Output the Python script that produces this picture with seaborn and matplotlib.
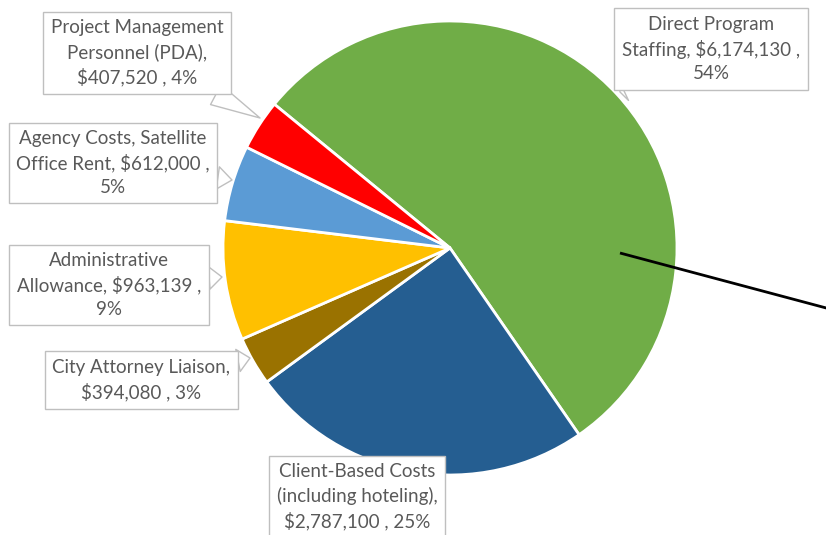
import matplotlib
matplotlib.use("Agg")
import matplotlib.pyplot as plt
import seaborn as sns

# Budget pieces, in the order they run clockwise round the pie
categories = [
    "Direct Program\nStaffing",
    "Client-Based Costs\n(including hoteling)",
    "City Attorney Liaison",
    "Administrative\nAllowance",
    "Agency Costs, Satellite\nOffice Rent",
    "Project Management\nPersonnel (PDA)",
]
amounts = [6174130, 2787100, 394080, 963139, 612000, 407520]
percents = ["54%", "25%", "3%", "9%", "5%", "4%"]
label_texts = [
    "Direct Program\nStaffing, $6,174,130 ,\n54%",
    "Client-Based Costs\n(including hoteling),\n$2,787,100 , 25%",
    "City Attorney Liaison,\n$394,080 , 3%",
    "Administrative\nAllowance, $963,139 ,\n9%",
    "Agency Costs, Satellite\nOffice Rent, $612,000 ,\n5%",
    "Project Management\nPersonnel (PDA),\n$407,520 , 4%",
]
colors = ["#70AD47", "#255E91", "#9A7200", "#FFC000", "#5B9BD5", "#FF0000"]

sns.set_style("white")
plt.rcParams["font.family"] = ["Lato", "DejaVu Sans"]

W, H = 826, 535
fig = plt.figure(figsize=(W / 100, H / 100), dpi=100)
ax = fig.add_axes([0, 0, 1, 1])

# pie center / radius in pixel space (y flipped)
cx, cy, r = 450, H - 248, 227
ax.pie(amounts, colors=colors, startangle=140.7, counterclock=False,
       center=(cx, cy), radius=r, frame=True,
       wedgeprops=dict(edgecolor="white", linewidth=2))
ax.set_xlim(0, W)
ax.set_ylim(0, H)
ax.set_aspect("equal")
ax.axis("off")

# (text centre, tail tip) per label in pixel coords
label_pos = [
    ((711, 49), (620, 92)),
    ((357, 497), (357, 470)),
    ((141, 380), (250, 358)),
    ((109, 285), (222, 277)),
    ((113, 163), (232, 180)),
    ((137, 53), (260, 118)),
]
for text, ((tx, ty), (px, py)) in zip(label_texts, label_pos):
    ax.annotate(text, xy=(px, H - py), xytext=(tx, H - ty),
                ha="center", va="center", fontsize=13.5, color="#595959",
                linespacing=1.45,
                bbox=dict(boxstyle="square,pad=0.4", fc="white",
                          ec="#BFBFBF", lw=1),
                arrowprops=dict(arrowstyle="wedge,tail_width=1.2",
                                fc="white", ec="#BFBFBF", lw=1,
                                shrinkA=0, shrinkB=0))

# stray leader line on the right
ax.plot([620, 830], [H - 253, H - 309], color="black", lw=2,
        solid_capstyle="butt")

fig.savefig("out.png", dpi=100)
